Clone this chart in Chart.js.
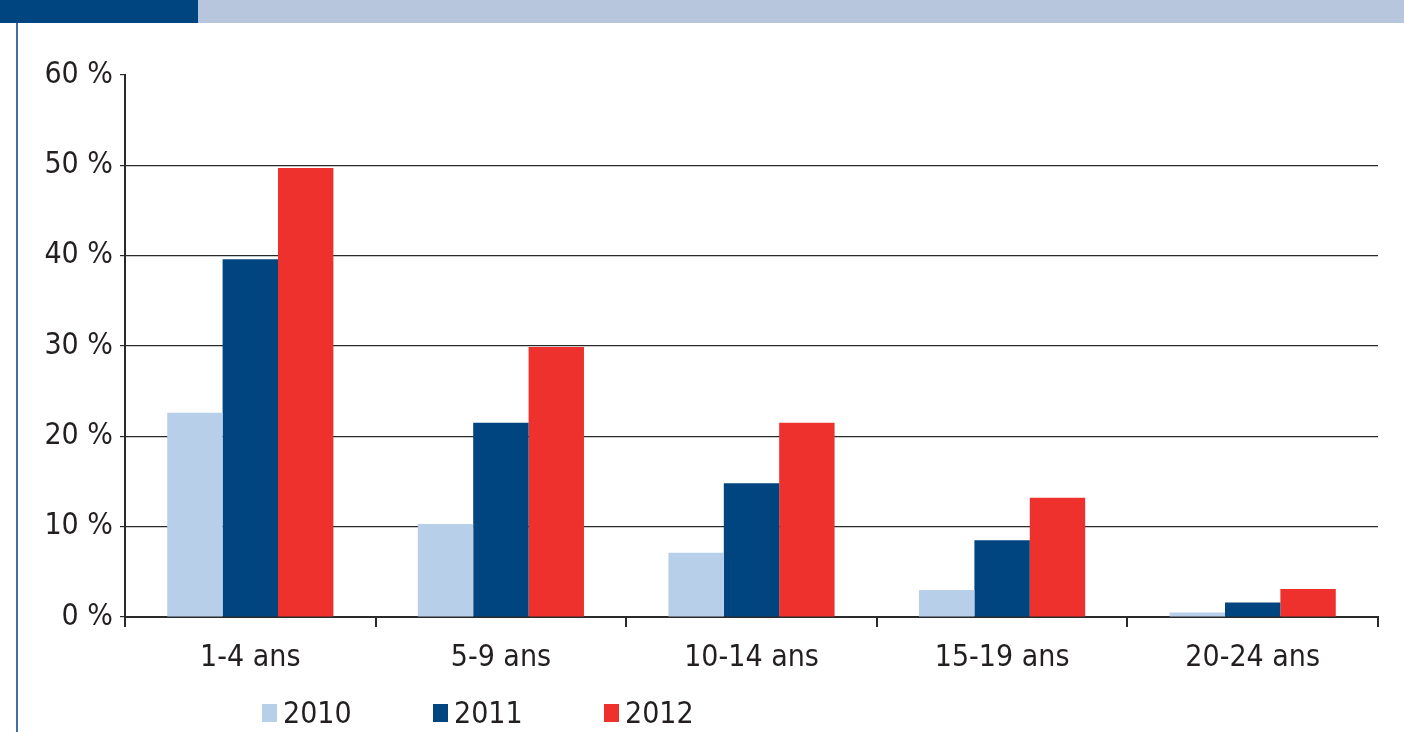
<!DOCTYPE html>
<html>
<head>
<meta charset="utf-8">
<script src="https://cdn.jsdelivr.net/npm/chart.js@4"></script>
<style>
html, body { margin:0; padding:0; background:#fff; }
#wrap { position:relative; width:1404px; height:732px; overflow:hidden; }
#band-dark { position:absolute; left:0; top:0; width:198px; height:23px; background:#00457f; }
#band-light { position:absolute; left:198px; top:0; width:1206px; height:23px; background:#b8c6dd; }
#rule { position:absolute; left:16px; top:23px; width:2px; height:709px; background:#3f6fa5; }
#chart { position:absolute; left:0; top:0; }
#legend { position:absolute; left:262px; top:701px; display:flex; }
#legend .item { display:flex; align-items:center; width:171px; }
#legend .box { width:15px; height:18px; margin-right:6px; }
#legend .txt { font:30px 'Liberation Sans Narrow','DejaVu Sans Condensed',sans-serif; color:#231f20; line-height:24px; }
</style>
</head>
<body>
<div id="wrap">
  <div id="band-dark"></div>
  <div id="band-light"></div>
  <div id="rule"></div>
  <canvas id="chart" width="1404" height="732"></canvas>
  <div id="legend"></div>
</div>
<script>
// data (share, %)
const categories = ['1-4 ans', '5-9 ans', '10-14 ans', '15-19 ans', '20-24 ans'];
const years = ['2010', '2011', '2012'];
const v2010 = [22.6, 10.3, 7.1, 3.0, 0.5];
const v2011 = [39.6, 21.5, 14.8, 8.5, 1.6];
const v2012 = [49.7, 29.9, 21.5, 13.2, 3.1];
const colors = ['#b8cfea', '#00457f', '#ee312c'];

const FONT = "'Liberation Sans Narrow','DejaVu Sans Condensed',sans-serif";
const INK = '#231f20';
const AXIS = '#2a2a2a';

const series = [v2010, v2011, v2012];
const datasets = years.map((y, i) => ({
  label: y,
  data: series[i],
  backgroundColor: colors[i],
  borderWidth: 0,
  categoryPercentage: 0.663,
  barPercentage: 1.0
}));

const chart = new Chart(document.getElementById('chart'), {
  type: 'bar',
  data: { labels: categories, datasets },
  options: {
    responsive: false,
    animation: false,
    layout: { padding: { left: 0, right: 26, top: 75, bottom: 55 } },
    plugins: { legend: { display: false }, tooltip: { enabled: false } },
    scales: {
      x: {
        afterFit: s => { s.height = 60; },
        grid: { offset: true, drawOnChartArea: false, drawTicks: true, tickLength: 10, tickColor: AXIS, lineWidth: 2 },
        border: { display: true, color: AXIS, width: 2 },
        ticks: { color: INK, font: { family: FONT, size: 30 }, padding: 13 }
      },
      y: {
        min: 0,
        max: 60,
        afterFit: s => { s.width = 125; },
        grid: {
          color: c => (c.tick && c.tick.value === 60) ? 'rgba(0,0,0,0)' : AXIS,
          tickColor: AXIS,
          tickLength: 5,
          lineWidth: 1.2
        },
        border: { display: true, color: AXIS, width: 2 },
        ticks: {
          stepSize: 10,
          color: INK,
          font: { family: FONT, size: 30 },
          padding: 7,
          callback: v => v + ' %'
        }
      }
    }
  }
});

// legend
const lg = document.getElementById('legend');
chart.data.datasets.forEach(d => {
  const it = document.createElement('div');
  it.className = 'item';
  it.innerHTML = '<span class="box" style="background:' + d.backgroundColor + '"></span><span class="txt">' + d.label + '</span>';
  lg.appendChild(it);
});
</script>
</body>
</html>
